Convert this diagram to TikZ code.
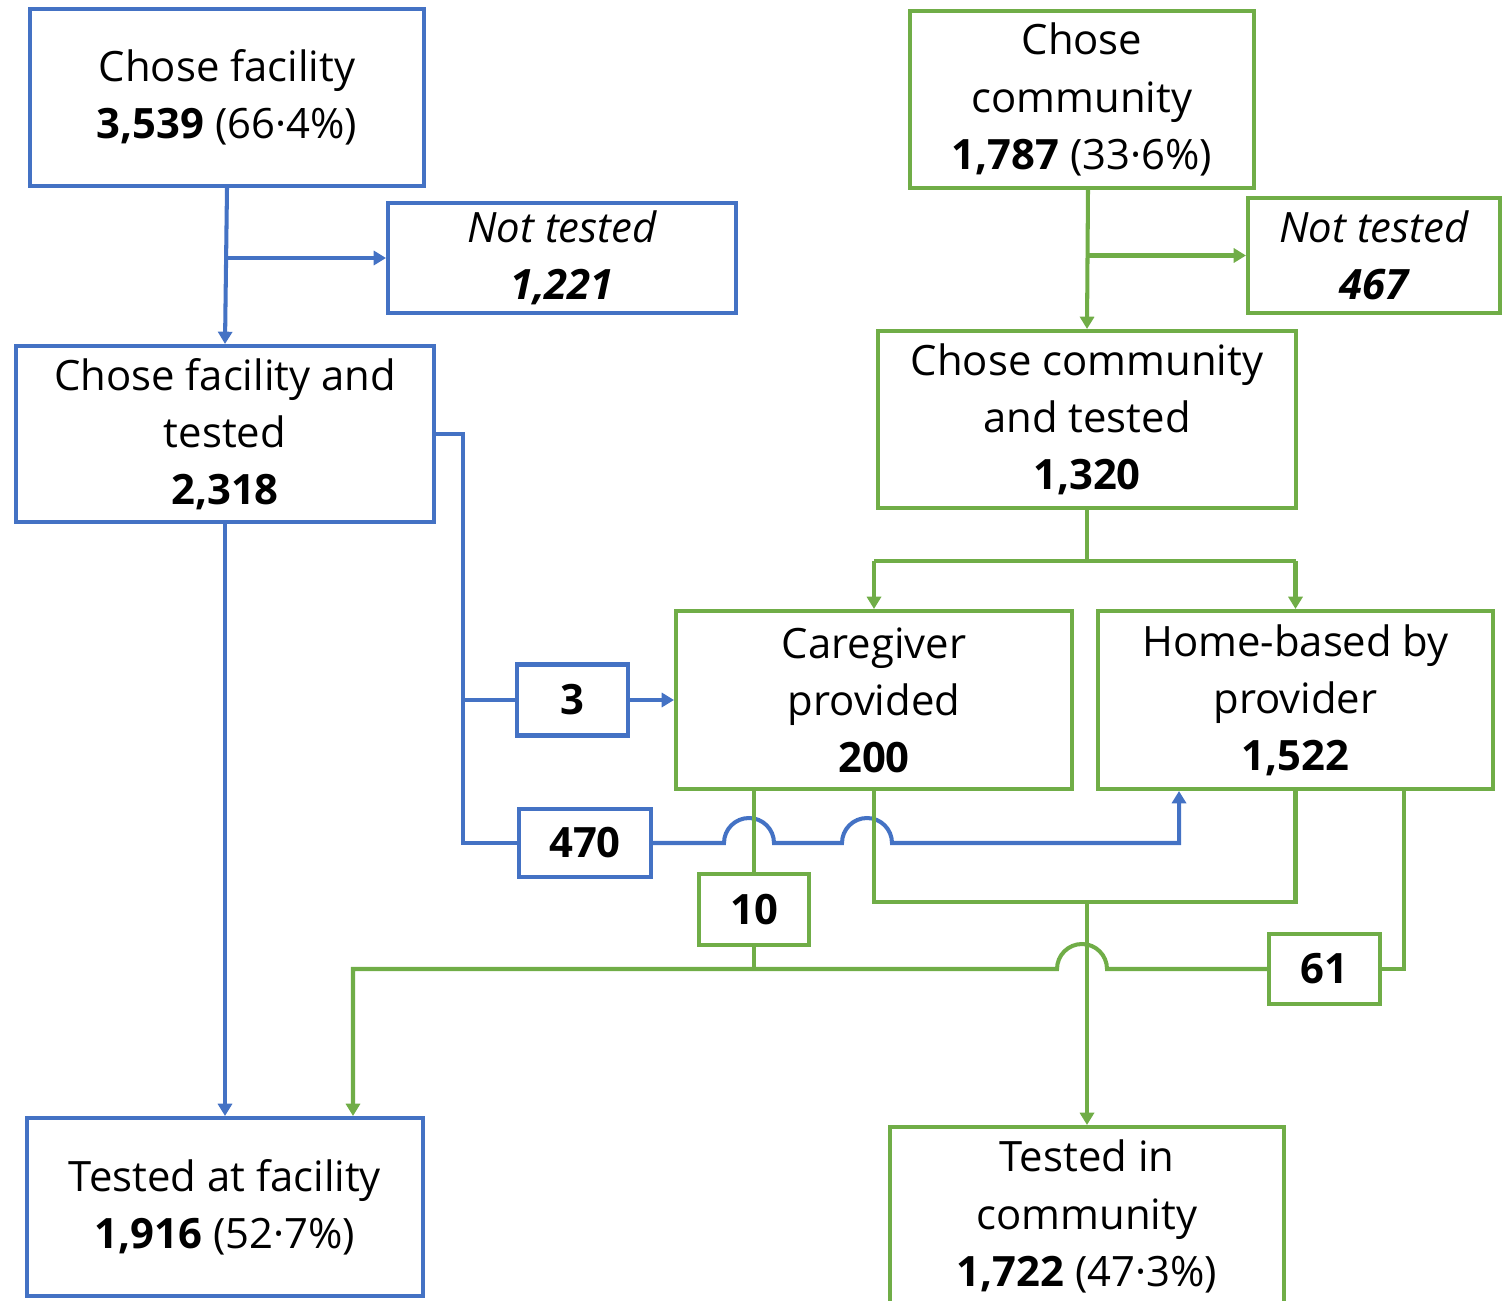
\documentclass[tikz,border=0pt]{standalone}
\usepackage{fontspec}
\setmainfont{Open Sans}
\usepackage{xcolor}
\usepackage{tikz}
\usetikzlibrary{arrows.meta, positioning, calc}
\definecolor{fblue}{HTML}{4472C4}
\definecolor{cgreen}{HTML}{70AD47}
\tikzstyle{flow} = [draw, line width=2.3pt, rectangle, align=center, inner sep=0pt, font=\fontsize{23.8}{32.5}\selectfont]
\tikzstyle{fbox} = [flow, draw=fblue]
\tikzstyle{cbox} = [flow, draw=cgreen]
\tikzstyle{bline} = [line width=2.3pt, draw=fblue]
\tikzstyle{gline} = [line width=2.3pt, draw=cgreen]
\tikzstyle{barrow} = [bline, -{Triangle[width=8pt,length=7pt]}]
\tikzstyle{garrow} = [gline, -{Triangle[width=8pt,length=7pt]}]

\begin{document}
\begin{tikzpicture}[x=0.02cm, y=-0.02cm]
\useasboundingbox (0,0) rectangle (1512,1301);
% facility side
\node[fbox, minimum width=7.88cm, minimum height=3.54cm] (facility) at (227,97.5) {Chose facility\\{\bfseries 3,539} (66·4\%)};
\node[fbox, minimum width=6.96cm, minimum height=2.2cm] (facnot) at (562,258) {\itshape Not tested\\{\bfseries\itshape 1,221}};
\node[fbox, minimum width=8.36cm, minimum height=3.52cm] (factested) at (225,434) {Chose facility and\\tested\\{\bfseries 2,318}};
\node[fbox, minimum width=7.92cm, minimum height=3.56cm] (facresult) at (225,1207) {Tested at facility\\{\bfseries 1,916} (52·7\%)};
\node[fbox, minimum width=2.22cm, minimum height=1.42cm] (nthree) at (572.5,700) {\bfseries 3};
\node[fbox, minimum width=2.64cm, minimum height=1.36cm] (nfourseventy) at (585,843) {\bfseries 470};
% community side
\node[cbox, minimum width=6.88cm, minimum height=3.54cm] (community) at (1082,99.5) {Chose\\community\\{\bfseries 1,787} (33·6\%)};
\node[cbox, minimum width=5.04cm, minimum height=2.3cm] (comnot) at (1374,255.5) {\itshape Not tested\\{\bfseries\itshape 467}};
\node[cbox, minimum width=8.36cm, minimum height=3.54cm] (comtested) at (1087,419.5) {Chose community\\and tested\\{\bfseries 1,320}};
\node[cbox, minimum width=7.92cm, minimum height=3.56cm] (caregiver) at (874,700) {Caregiver\\provided\\{\bfseries 200}};
\node[cbox, minimum width=7.9cm, minimum height=3.56cm] (homebased) at (1295.5,700) {Home-based by\\provider\\{\bfseries 1,522}};
\node[cbox, minimum width=7.9cm, minimum height=3.58cm] (comresult) at (1087,1216.5) {Tested in\\community\\{\bfseries 1,722} (47·3\%)};
\node[cbox, minimum width=2.2cm, minimum height=1.42cm] (nten) at (754,909.5) {\bfseries 10};
\node[cbox, minimum width=2.22cm, minimum height=1.4cm] (nsixtyone) at (1324.5,969) {\bfseries 61};

\coordinate (fsplit) at (463,434);
\coordinate (comout) at ($(community.south)+(6,0)$);
\coordinate (hbin) at ($(homebased.south west)+(83,0)$);
\coordinate (cgout) at ($(caregiver.south)+(-120,0)$);
\coordinate (hbout) at ($(homebased.south east)+(-91,0)$);
\coordinate (cmerge) at (1087,902);
\coordinate (gjoin) at (353,969);

% blue connectors
\draw[barrow] (facility.south) -- (factested.north);
\draw[barrow] (facility.south |- facnot.west) -- (facnot.west);
\draw[barrow] (factested.south) -- (facresult.north);
\draw[bline] (factested.east) -- (fsplit) -- (fsplit |- nfourseventy.west) -- (nfourseventy.west);
\draw[bline] (fsplit |- nthree.west) -- (nthree.west);
\draw[barrow] (nthree.east) -- (caregiver.west);
\draw[barrow] (nfourseventy.east) -- (724,843) arc[start angle=180, end angle=0, radius=0.5cm]
  -- (842,843) arc[start angle=180, end angle=0, radius=0.5cm] -- (hbin |- nfourseventy.east) -- (hbin);

% green connectors
\draw[garrow] (comout) -- (comtested.north);
\draw[garrow] (comout |- comnot.west) -- (comnot.west);
\draw[gline] (comtested.south) -- ++(0,51) coordinate (gsplit);
\draw[gline] (caregiver.north |- gsplit) -- (homebased.north |- gsplit);
\draw[garrow] (caregiver.north |- gsplit) -- (caregiver.north);
\draw[garrow] (homebased.north |- gsplit) -- (homebased.north);
\draw[gline] (cgout) -- (nten.north);
\draw[gline] (nten.south) -- (nten.south |- gjoin);
\draw[gline] (caregiver.south) -- (caregiver.south |- cmerge) -- (homebased.south |- cmerge) -- (homebased.south);
\draw[garrow] (cmerge) -- (comresult.north);
\draw[gline] (hbout) -- (hbout |- nsixtyone.east) -- (nsixtyone.east);
\draw[garrow] (nsixtyone.west) -- (1107,969) arc[start angle=0, end angle=180, radius=0.5cm]
  -- (gjoin) -- (gjoin |- facresult.north);
\end{tikzpicture}
\end{document}
